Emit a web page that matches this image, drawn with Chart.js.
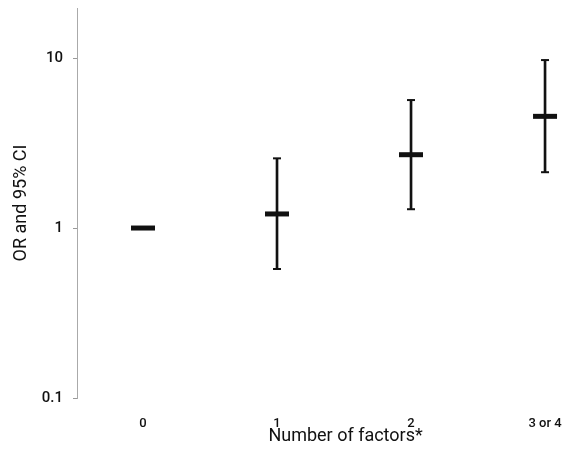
<!DOCTYPE html>
<html>
<head>
<meta charset="utf-8">
<script src="https://cdn.jsdelivr.net/npm/chart.js@4"></script>
<style>
  html, body { margin: 0; padding: 0; background: #fff; }
  #wrap { width: 569px; height: 449px; }
</style>
</head>
<body>
<div id="wrap"><canvas id="chart"></canvas></div>
<script>
// number of factors and the odds ratios with their 95% CI
const categories = ['0', '1', '2', '3 or 4'];
const oddsRatio = [1, 1.21, 2.70, 4.54];
const ciLower = [null, 0.574, 1.29, 2.13];
const ciUpper = [null, 2.57, 5.66, 9.73];
const yTicks = [0.1, 1, 10];

const ink = '#111';

// CI whiskers as thin floating bars, caps as short line points
const ciBars = [];
const caps = [];
categories.forEach((c, i) => {
  if (ciLower[i] == null) return;
  ciBars.push({ x: i, y: [ciLower[i], ciUpper[i]] });
  caps.push({ x: i, y: ciLower[i] });
  caps.push({ x: i, y: ciUpper[i] });
});

// keep tick labels from pushing the plot area around
const noPad = () => ({ left: 0, top: 0, right: 0, bottom: 0 });

const ctx = document.getElementById('chart').getContext('2d');
new Chart(ctx, {
  type: 'bar',
  data: {
    datasets: [{
      type: 'bar',
      data: ciBars,
      backgroundColor: ink,
      barThickness: 2,
      borderSkipped: false,
      order: 3
    }, {
      type: 'scatter',
      data: caps,
      pointStyle: 'line',
      radius: 4,
      borderWidth: 2,
      borderColor: ink,
      order: 2
    }, {
      type: 'scatter',
      data: oddsRatio.map((v, i) => ({ x: i, y: v })),
      pointStyle: 'line',
      radius: 12,
      borderWidth: 5,
      borderColor: ink,
      order: 1
    }]
  },
  options: {
    responsive: true,
    maintainAspectRatio: false,
    animation: false,
    layout: {
      autoPadding: false,
      padding: { top: 8, right: 4, left: 0, bottom: 0 }
    },
    plugins: {
      legend: { display: false },
      tooltip: { enabled: false }
    },
    scales: {
      x: {
        type: 'linear',
        offset: false,
        min: -0.4925,
        max: 3.149,
        grid: { display: false },
        border: { display: false },
        afterBuildTicks: (scale) => {
          scale.ticks = categories.map((c, i) => ({ value: i }));
        },
        afterFit: (scale) => {
          scale.height = 51;
          scale.paddingLeft = scale.paddingRight = 0;
          scale.getPadding = noPad;
        },
        ticks: {
          color: '#111',
          font: { family: 'Roboto', size: 13, weight: '500' },
          padding: 10,
          maxRotation: 0,
          callback: (v) => categories[v]
        },
        title: {
          display: true,
          // leading spaces nudge the centred title to the right, as in the original
          text: '           Number of factors*',
          color: '#111',
          font: { family: 'Roboto', size: 18 },
          padding: { top: 0, bottom: 2 }
        }
      },
      y: {
        type: 'logarithmic',
        min: 0.1,
        max: 19.7,
        afterBuildTicks: (scale) => {
          scale.ticks = yTicks.map(v => ({ value: v }));
        },
        afterFit: (scale) => {
          scale.width = 77;
          scale.paddingTop = scale.paddingBottom = 0;
          scale.getPadding = noPad;
        },
        grid: {
          drawOnChartArea: false,
          drawTicks: true,
          tickLength: 4,
          color: '#999',
          lineWidth: 1
        },
        border: { display: true, color: '#aaa', width: 1 },
        ticks: {
          color: '#111',
          font: { family: 'Roboto', size: 15, weight: '500' },
          padding: 10,
          callback: (v) => String(v)
        },
        title: {
          display: true,
          text: 'OR and 95% CI',
          color: '#111',
          font: { family: 'Roboto', size: 18 },
          padding: { top: 11, bottom: 0 }
        }
      }
    }
  }
});
</script>
</body>
</html>
